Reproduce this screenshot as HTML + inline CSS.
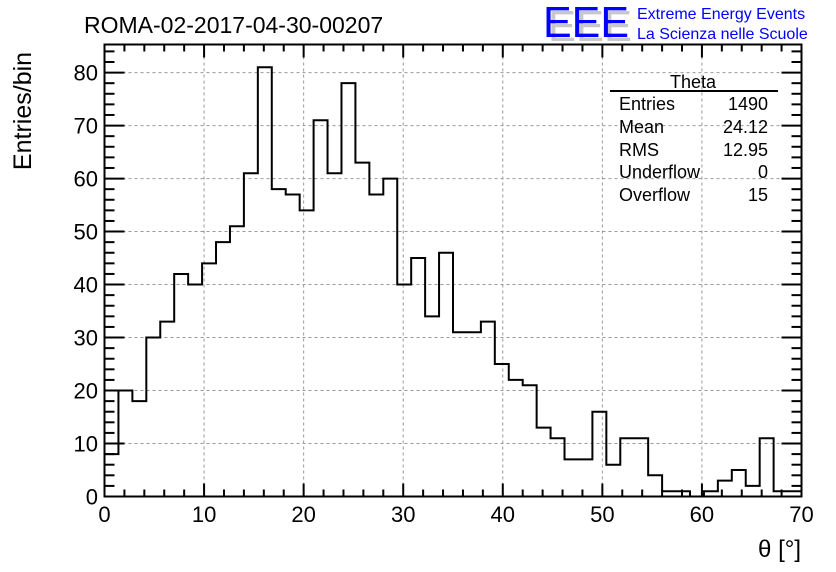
<!DOCTYPE html>
<html><head><meta charset="utf-8"><style>
html,body{margin:0;padding:0;background:#fff;}
svg{display:block;font-family:"Liberation Sans",sans-serif;}
</style></head><body>
<svg id="chart" width="836" height="572" viewBox="0 0 836 572">
<text x="84" y="33" font-size="23" fill="#000">ROMA-02-2017-04-30-00207</text>
<g>
<text x="548" y="41" font-size="44" fill="#c8c8c8" textLength="84" lengthAdjust="spacingAndGlyphs">EEE</text>
<text x="543" y="37" font-size="44" fill="#0000ff" textLength="86" lengthAdjust="spacingAndGlyphs">EEE</text>
<text x="637" y="19" font-size="16" fill="#0000ff">Extreme Energy Events</text>
<text x="637" y="39" font-size="16" fill="#0000ff">La Scienza nelle Scuole</text>
</g>
<g id="grid"></g>
<g id="ticks"></g>
<g id="labels"></g>
<path id="hist" fill="none" stroke="#000" stroke-width="2"/>
<rect x="104.5" y="44.5" width="697" height="452" fill="none" stroke="#000" stroke-width="2"/>
<g font-size="18" fill="#000">
<text x="693" y="88" text-anchor="middle">Theta</text>
<line x1="610" y1="91" x2="778" y2="91" stroke="#000" stroke-width="2"/>
<text x="619" y="110">Entries</text><text x="768" y="110" text-anchor="end">1490</text>
<text x="619" y="133">Mean</text><text x="768" y="133" text-anchor="end">24.12</text>
<text x="619" y="156">RMS</text><text x="768" y="156" text-anchor="end">12.95</text>
<text x="619" y="178">Underflow</text><text x="768" y="178" text-anchor="end">0</text>
<text x="619" y="201">Overflow</text><text x="768" y="201" text-anchor="end">15</text>
</g>
<text transform="translate(31,111) rotate(-90)" text-anchor="middle" font-size="25">Entries/bin</text>
<text x="801" y="557" text-anchor="end" font-size="24">θ [°]</text>
</svg>
<script>
const binCounts=[8,20,18,30,33,42,40,44,48,51,61,81,58,57,54,71,61,78,63,57,60,40,45,34,46,31,31,33,25,22,21,13,11,7,7,16,6,11,11,4,1,1,0,1,3,5,2,11,1,1];
const xTicks=[0,10,20,30,40,50,60,70];
const yTicks=[0,10,20,30,40,50,60,70,80];
const xMin=0,xMax=70,binWidth=1.4,yMax=85.3;
const L=104.5,R=801.5,T=44.5,B=496.5;
const NS='http://www.w3.org/2000/svg';
function sx(v){return L+(v-xMin)/(xMax-xMin)*(R-L);}
function sy(v){return B-v/yMax*(B-T);}
function mk(tag,attrs,parent){const e=document.createElementNS(NS,tag);for(const k in attrs)e.setAttribute(k,attrs[k]);parent.appendChild(e);return e;}
const grid=document.getElementById('grid'),ticks=document.getElementById('ticks'),labels=document.getElementById('labels');
xTicks.forEach(v=>{
  const x=sx(v);
  if(v>xMin&&v<xMax){const g=mk('line',{x1:x,x2:x,y1:T,y2:B,stroke:'#999','stroke-dasharray':'3,3','stroke-width':1},grid);
  
  }
  const t=mk('text',{x:x,y:522,'text-anchor':'middle','font-size':22},labels);t.textContent=v;
  
  
});
for(let v=xMin;v<=xMax;v+=2){const x=sx(v);const len=(v%10===0)?13:7;
  mk('line',{x1:x,x2:x,y1:B,y2:B-len,stroke:'#000','stroke-width':2},ticks);
  mk('line',{x1:x,x2:x,y1:T,y2:T+len,stroke:'#000','stroke-width':2},ticks);}
yTicks.forEach(v=>{
  const y=sy(v);
  if(v>0){const g=mk('line',{x1:L,x2:R,y1:y,y2:y,stroke:'#999','stroke-dasharray':'3,3','stroke-width':1},grid);
  
  }
  const t=mk('text',{x:98,y:y+8,'text-anchor':'end','font-size':22},labels);t.textContent=v;
  
  
});
for(let v=0;v<=yMax;v+=2){const y=sy(v);const len=(v%10===0)?20:10;
  mk('line',{x1:L,x2:L+len,y1:y,y2:y,stroke:'#000','stroke-width':2},ticks);
  mk('line',{x1:R,x2:R-len,y1:y,y2:y,stroke:'#000','stroke-width':2},ticks);}
let d='M'+sx(0)+','+sy(0);
binCounts.forEach((c,i)=>{const x0=sx(i*binWidth),x1=sx((i+1)*binWidth);d+=' L'+x0+','+sy(c)+' L'+x1+','+sy(c);});
document.getElementById('hist').setAttribute('d',d);
</script>
</body></html>
